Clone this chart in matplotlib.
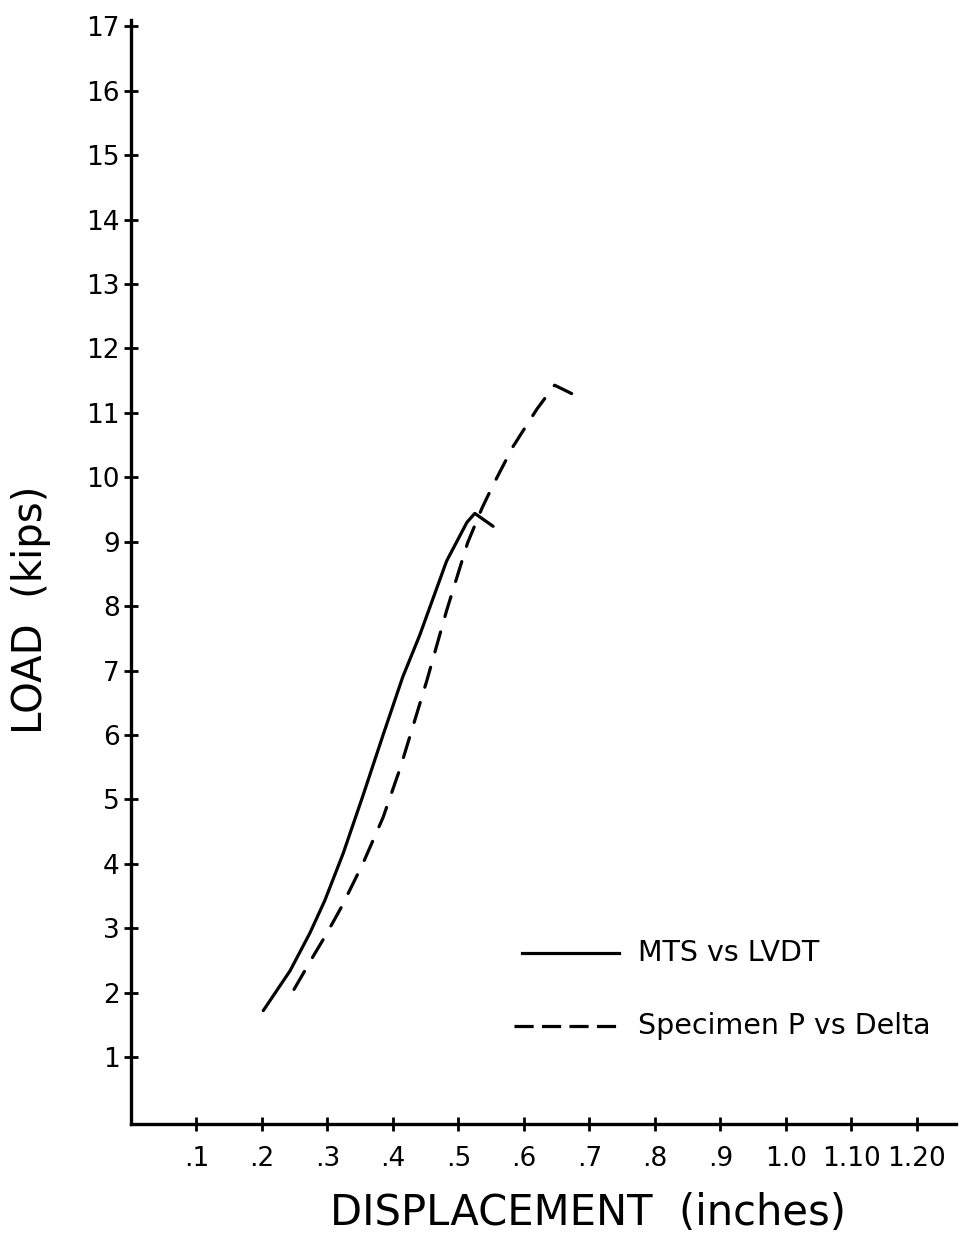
import matplotlib
matplotlib.use("Agg")
import matplotlib.pyplot as plt

# Data
mts_x = [0.202, 0.243, 0.273, 0.296, 0.324, 0.354, 0.385, 0.415, 0.441, 0.482, 0.513, 0.525, 0.553]
mts_y = [1.72, 2.34, 2.92, 3.43, 4.16, 5.05, 6.00, 6.90, 7.55, 8.70, 9.30, 9.44, 9.24]

spec_x = [0.249, 0.278, 0.298, 0.322, 0.354, 0.385, 0.411, 0.432, 0.452, 0.482, 0.514,
          0.536, 0.553, 0.583, 0.620, 0.647, 0.673]
spec_y = [2.05, 2.56, 2.90, 3.34, 4.00, 4.72, 5.48, 6.18, 6.85, 7.93, 8.98,
          9.52, 9.88, 10.47, 11.06, 11.43, 11.30]

x_ticks = [0.1, 0.2, 0.3, 0.4, 0.5, 0.6, 0.7, 0.8, 0.9, 1.0, 1.1, 1.2]
x_labels = [".1", ".2", ".3", ".4", ".5", ".6", ".7", ".8", ".9", "1.0", "1.10", "1.20"]
y_ticks = list(range(1, 18))
y_labels = [str(v) for v in y_ticks]

series_labels = ["MTS vs LVDT", "Specimen P vs Delta"]

plt.rcParams['font.family'] = ['DejaVu Sans']

W, H = 959, 1246
fig = plt.figure(figsize=(W / 100, H / 100), dpi=100)
ax = fig.add_axes([131 / W, (H - 1124) / H, (956 - 131) / W, (1124 - 20) / H])

lw = 2.3
ax.plot(mts_x, mts_y, color="black", lw=lw, solid_capstyle="round", solid_joinstyle="round")
ax.plot(spec_x, spec_y, color="black", lw=lw, dashes=(6.5, 5), dash_capstyle="round",
        dash_joinstyle="round")

ax.set_xlim(0, 1.26)
ax.set_ylim(-0.04, 17.1)

for s in ["top", "right"]:
    ax.spines[s].set_visible(False)
for s in ["left", "bottom"]:
    ax.spines[s].set_linewidth(2.4)

ax.set_xticks(x_ticks)
ax.set_xticklabels(x_labels)
ax.set_yticks(y_ticks)
ax.set_yticklabels(y_labels)
ax.tick_params(axis="both", direction="inout", length=10, width=2, labelsize=19)
ax.tick_params(axis="x", pad=11)
ax.tick_params(axis="y", pad=3)

fig.text(588 / W, 1 - 1213 / H, "DISPLACEMENT  (inches)", fontsize=30, ha="center", va="center")
fig.text(31 / W, 1 - 610 / H, "LOAD  (kips)", fontsize=29, ha="center", va="center", rotation=90)

# legend drawn in axes coordinates
def ax_x(px):
    return (px - 131) / (956 - 131)

def ax_y(py):
    return (1124 - py) / (1124 - 20)

ax.plot([ax_x(522), ax_x(619)], [ax_y(953), ax_y(953)], transform=ax.transAxes, color="black", lw=lw)
ax.plot([ax_x(514), ax_x(619)], [ax_y(1026), ax_y(1026)], transform=ax.transAxes, color="black", lw=lw,
        dashes=(6, 2.6))
ax.text(ax_x(638), ax_y(953), series_labels[0], transform=ax.transAxes, fontsize=20.5, va="center", ha="left")
ax.text(ax_x(638), ax_y(1026), series_labels[1], transform=ax.transAxes, fontsize=20.5, va="center", ha="left")

fig.savefig("out.png", dpi=100)
